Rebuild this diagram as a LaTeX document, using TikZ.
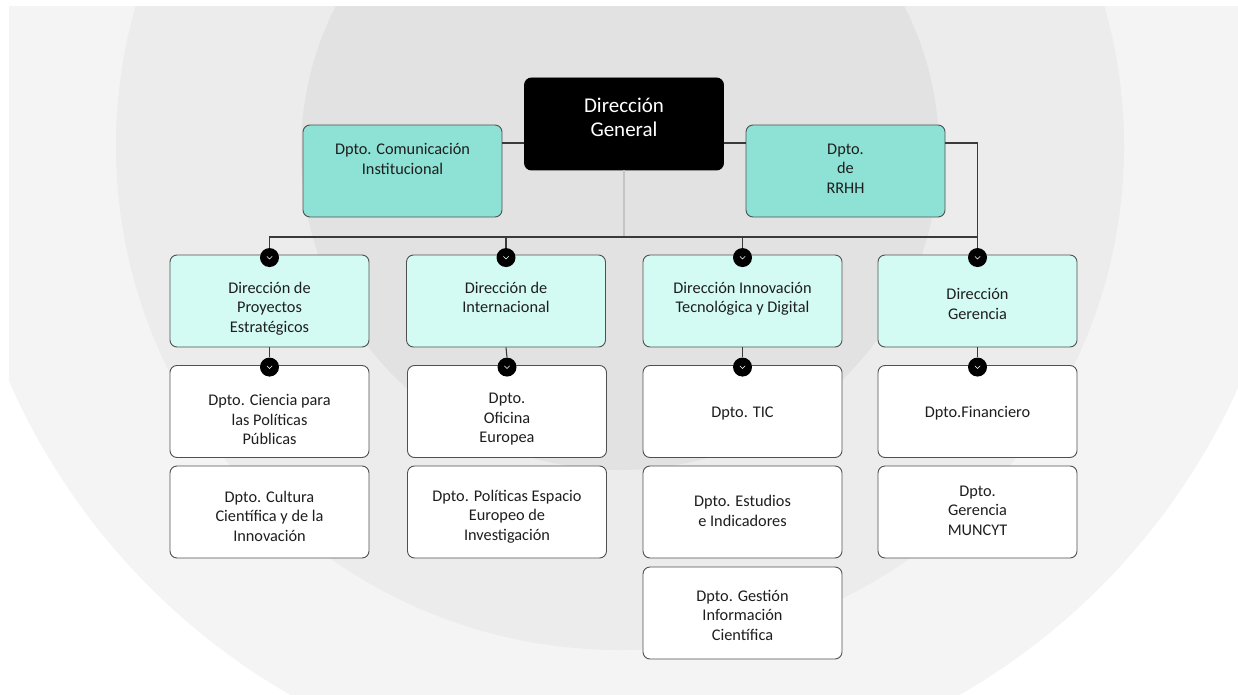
\documentclass[tikz,border=0pt]{standalone}
\usepackage{fontspec}
\setmainfont{Carlito}
\definecolor{bgouter}{HTML}{F4F4F4}
\definecolor{bgmid}{HTML}{ECECEC}
\definecolor{bginner}{HTML}{E2E2E2}
\definecolor{staffteal}{HTML}{8DE2D5}
\definecolor{dirmint}{HTML}{D3FBF3}
\definecolor{edge}{HTML}{505050}
\definecolor{wire}{HTML}{3A3A3A}
\definecolor{spinegray}{HTML}{C4C4C4}
\definecolor{ink}{HTML}{1E1E1E}
\newcommand{\boxtext}[2]{\raisebox{\dimexpr 0pt-(#1)-0.25em\relax}[0pt][0pt]{\begin{tabular}{@{}c@{}}#2\end{tabular}}}
\tikzset{
  unit/.style={draw=edge, line width=0.9pt, rounded corners=7pt, minimum width=199pt,
    minimum height=92pt, inner sep=0pt, text=ink, font=\fontsize{16.3}{19.5}\selectfont},
  headbox/.style={unit, fill=black, draw=black, text=white, font=\fontsize{21}{24}\selectfont},
  staffbox/.style={unit, fill=staffteal},
  dirbox/.style={unit, fill=dirmint},
  deptbox/.style={unit, fill=white},
  knob/.style={circle, fill=black, minimum size=19pt, inner sep=0pt,
    path picture={\draw[white, line width=0.6pt]
      ([xshift=-2.6pt,yshift=1.2pt]path picture bounding box.center) --
      ([yshift=-1.4pt]path picture bounding box.center) --
      ([xshift=2.6pt,yshift=1.2pt]path picture bounding box.center);}},
  link/.style={draw=wire, line width=1.1pt},
  spine/.style={draw=spinegray, line width=1.1pt}
}
\begin{document}
\begin{tikzpicture}[x=1pt,y=-1pt]
  \useasboundingbox (0,0) rectangle (1238,695);
  \fill[white] (0,0) rectangle (1238,695);
  \begin{scope}
    \clip (9,7) rectangle (1238,695);
    \fill[bgouter] (625,112) circle (672pt);
    \fill[bgmid] (620,146) circle (504pt);
    \fill[bginner] (620,151) circle (319pt);
  \end{scope}

  \node[headbox] (gen) at (624,124) {\boxtext{-4pt}{Dirección\\General}};
  \node[staffbox] (com) at (402.5,171) {\boxtext{-10pt}{Dpto. Comunicación\\Institucional}};
  \node[staffbox] (rh) at (845.5,171) {\boxtext{-1pt}{Dpto.\\de\\RRHH}};

  \node[dirbox] (pe) at (269.5,301) {\boxtext{8pt}{Dirección de\\Proyectos\\Estratégicos}};
  \node[dirbox] (in) at (506,301) {\boxtext{-1.5pt}{Dirección de\\Internacional}};
  \node[dirbox] (it) at (742.5,301) {\boxtext{-1.5pt}{Dirección Innovación\\Tecnológica y Digital}};
  \node[dirbox] (ge) at (977.5,301) {\boxtext{5pt}{Dirección\\Gerencia}};

  \node[deptbox] (cpp) at (269.5,411.5) {\boxtext{10pt}{Dpto. Ciencia para\\las Políticas\\Públicas}};
  \node[deptbox] (ofi) at (507,411.5) {\boxtext{8pt}{Dpto.\\Oficina\\Europea}};
  \node[deptbox] (tic) at (742.5,411.5) {\boxtext{2pt}{Dpto. TIC}};
  \node[deptbox] (fin) at (977.5,411.5) {\boxtext{2pt}{Dpto.Financiero}};

  \node[deptbox] (cul) at (269.5,512) {\boxtext{6pt}{Dpto. Cultura\\Científica y de la\\Innovación}};
  \node[deptbox] (pol) at (507,512) {\boxtext{5pt}{Dpto. Políticas Espacio\\Europeo de\\Investigación}};
  \node[deptbox] (est) at (742.5,512) {\boxtext{1pt}{Dpto. Estudios\\e Indicadores}};
  \node[deptbox] (mun) at (977.5,512) {\boxtext{0pt}{Dpto.\\Gerencia\\MUNCYT}};

  \node[deptbox] (gic) at (742.5,613) {\boxtext{4pt}{Dpto. Gestión\\Información\\Científica}};

  \foreach \b/\k in {pe/k1, in/k2, it/k3, ge/k4}
    \node[knob] (\k) at ([yshift=-3pt]\b.north) {};
  \foreach \b/\k in {cpp/k5, ofi/k6, tic/k7, fin/k8}
    \node[knob] (\k) at ([yshift=-2pt]\b.north) {};

  \coordinate (tie) at (0,143);
  \coordinate (bus) at (0,237);
  \draw[spine] (gen.south) -- (gen.south |- bus);
  \draw[link] (com.east |- tie) -- (gen.west |- tie);
  \draw[link] (gen.east |- tie) -- (rh.west |- tie);
  \draw[link] (rh.east |- tie) -| (k4.north);
  \draw[link] (k1.north) |- (k4 |- bus);
  \draw[link] (k2.north) -- (k2 |- bus);
  \draw[link] (k3.north) -- (k3 |- bus);
  \foreach \b/\k in {pe/k5, in/k6, it/k7, ge/k8}
    \draw[link] (\b.south) -- (\k.north);
\end{tikzpicture}
\end{document}
